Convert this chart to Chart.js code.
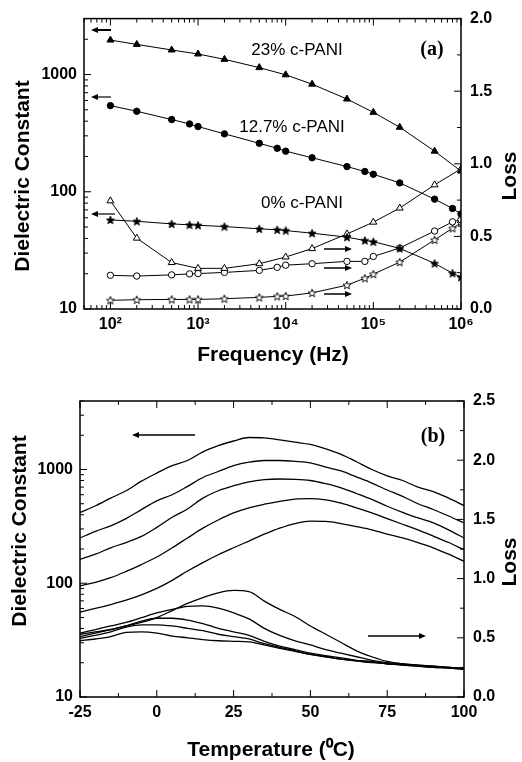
<!DOCTYPE html>
<html><head><meta charset="utf-8">
<script src="https://cdn.jsdelivr.net/npm/chart.js@4.4.0/dist/chart.umd.min.js"></script>
<style>html,body{margin:0;padding:0;background:#fff;width:522px;height:762px;overflow:hidden;}</style>
</head><body>
<canvas id="ca" width="522" height="380" style="position:absolute;left:0;top:0"></canvas>
<canvas id="cb" width="522" height="382" style="position:absolute;left:0;top:380px"></canvas>
<script>
// ---------- Panel (a) data ----------
const freqA = [100,200,500,1000,2000,5000,1e4,2e4,5e4,1e5,2e5,5e5,1e6];
const freqB = [100,200,500,800,1000,2000,5000,8000,1e4,2e4,5e4,8e4,1e5,2e5,5e5,8e5,1e6];
const eps23 = [1968,1807,1620,1497,1348,1146,994,828,618,476,355,222,150];
const loss23 = [0.745,0.488,0.320,0.280,0.280,0.312,0.358,0.416,0.517,0.598,0.695,0.855,0.965];
const eps127 = [543,486,413,379,360,312,259,235,222,195,164,149,141,119,86.5,72,64.7];
const loss127 = [0.232,0.227,0.235,0.242,0.244,0.252,0.266,0.287,0.302,0.312,0.328,0.328,0.362,0.42,0.537,0.60,0.615];
const eps0 = [57.5,56,53.2,52.2,51.8,50.5,48.3,47.4,46.7,44.3,41,38.4,37.5,32.9,24.5,20.2,18.7];
const loss0 = [0.060,0.064,0.066,0.066,0.066,0.071,0.080,0.087,0.089,0.111,0.164,0.212,0.240,0.323,0.476,0.556,0.592];
const freqTickValues = [1e2,1e3,1e4,1e5,1e6];
const freqTickLabels = ['10\u00B2','10\u00B3','10\u2074','10\u2075','10\u2076'];
const epsTickValues = [10,100,1000];
const epsTickLabels = ['10','100','1000'];

// ---------- Panel (b) data ----------
const temps = [-25,-20,-15,-10,-5,0,5,10,15,20,25,30,35,40,45,50,55,60,65,70,75,80,85,90,95,100];
const epsT1 = [418,480,560,650,790,930,1080,1200,1430,1620,1780,1910,1900,1820,1740,1660,1520,1360,1170,1000,880,800,700,640,560,482];
const epsT2 = [250,286,320,370,444,530,600,710,850,960,1080,1160,1200,1200,1180,1145,1050,970,860,760,660,580,500,445,390,339];
const epsT3 = [162,180,205,228,258,310,380,450,560,650,720,780,815,825,820,800,750,690,615,545,475,420,375,340,295,250];
const epsT4 = [95,102,112,127,146,170,205,250,305,360,415,460,495,525,550,555,540,505,460,415,370,330,295,260,228,197];
const epsT5 = [56,60,65,71,79,90,106,128,152,178,205,235,270,305,335,352,350,335,315,295,270,250,228,205,180,156];
const lossT1 = [0.53,0.55,0.57,0.60,0.63,0.67,0.73,0.79,0.84,0.88,0.90,0.89,0.81,0.74,0.68,0.60,0.53,0.46,0.39,0.34,0.30,0.28,0.27,0.26,0.25,0.24];
const lossT2 = [0.54,0.57,0.60,0.63,0.67,0.71,0.74,0.765,0.77,0.75,0.71,0.66,0.58,0.52,0.475,0.44,0.40,0.37,0.34,0.31,0.29,0.28,0.27,0.26,0.25,0.24];
const lossT3 = [0.51,0.54,0.57,0.60,0.64,0.665,0.665,0.65,0.62,0.58,0.55,0.52,0.47,0.43,0.40,0.37,0.35,0.33,0.31,0.30,0.28,0.275,0.265,0.255,0.25,0.24];
const lossT4 = [0.495,0.52,0.55,0.59,0.61,0.61,0.60,0.58,0.56,0.53,0.51,0.49,0.45,0.42,0.39,0.36,0.34,0.32,0.305,0.295,0.28,0.27,0.26,0.25,0.245,0.235];
const lossT5 = [0.475,0.49,0.51,0.545,0.55,0.54,0.515,0.50,0.485,0.475,0.47,0.465,0.44,0.41,0.385,0.36,0.34,0.32,0.305,0.29,0.28,0.27,0.26,0.25,0.245,0.235];
const tempTickValues = [-25,0,25,50,75,100];
const lossTickValuesA = [0,0.5,1,1.5,2];
const lossTickValuesB = [0,0.5,1,1.5,2,2.5];

// ---------- helpers ----------
const FAM = '"Liberation Sans", Arial, Helvetica, sans-serif';
const tickFont = {family: FAM, size: 16, weight: 'bold'};
Chart.defaults.color = '#000';

function makeStar(filled) {
  const c = document.createElement('canvas'); c.width = 10; c.height = 10;
  const g = c.getContext('2d');
  g.beginPath();
  for (let i = 0; i < 10; i++) {
    const r = i % 2 === 0 ? 4.2 : 1.8;
    const ang = -Math.PI / 2 + i * Math.PI / 5;
    g.lineTo(5 + r * Math.cos(ang), 5.4 + r * Math.sin(ang));
  }
  g.closePath();
  g.fillStyle = filled ? '#000' : '#fff'; g.fill();
  g.strokeStyle = '#000'; g.lineWidth = 0.9; g.stroke();
  return c;
}
const starFilled = makeStar(true), starOpen = makeStar(false);

function pts(xs, ys) { return xs.map((x, i) => ({x: x, y: ys[i]})); }
function markerSet(xs, ys, axis, style, filled, r) {
  return {data: pts(xs, ys), yAxisID: axis, borderColor: '#000', borderWidth: 1, tension: 0, fill: false,
    pointStyle: style, pointRadius: r, pointBackgroundColor: filled ? '#000' : '#fff',
    pointBorderColor: '#000', pointBorderWidth: 1};
}
function curveSet(xs, ys, axis) {
  return {data: pts(xs, ys), yAxisID: axis, borderColor: '#000', borderWidth: 1.3, fill: false,
    pointRadius: 0, cubicInterpolationMode: 'monotone'};
}
function logTicks(min, max) {
  const out = [];
  for (let e = Math.floor(Math.log10(min)); e <= Math.ceil(Math.log10(max)); e++) {
    for (let k = 1; k <= 9; k++) {
      const v = k * Math.pow(10, e);
      if (v >= min * 0.999 && v <= max * 1.001) out.push({v: v, major: k === 1});
    }
  }
  return out;
}
function linTicks(min, max, step, majorStep) {
  const out = [];
  for (let v = min; v <= max + 1e-9; v += step) {
    const q = (v - min) / majorStep;
    out.push({v: v, major: Math.abs(q - Math.round(q)) < 1e-6});
  }
  return out;
}
function drawFrame(ctx, a, sc, xt, yt, y1t) {
  ctx.save();
  ctx.strokeStyle = '#000'; ctx.lineWidth = 1;
  ctx.beginPath();
  xt.forEach(t => { const p = sc.x.getPixelForValue(t.v); const L = t.major ? 7 : 4;
    ctx.moveTo(p, a.bottom); ctx.lineTo(p, a.bottom - L); ctx.moveTo(p, a.top); ctx.lineTo(p, a.top + L); });
  yt.forEach(t => { const p = sc.y.getPixelForValue(t.v); const L = t.major ? 7 : 4;
    ctx.moveTo(a.left, p); ctx.lineTo(a.left + L, p); });
  y1t.forEach(t => { const p = sc.y1.getPixelForValue(t.v); const L = t.major ? 7 : 4;
    ctx.moveTo(a.right, p); ctx.lineTo(a.right - L, p); });
  ctx.stroke();
  ctx.lineWidth = 1.5;
  ctx.strokeRect(a.left, a.top, a.right - a.left, a.bottom - a.top);
  ctx.restore();
}
function txt(ctx, s, x, y, font, rot) {
  ctx.save(); ctx.translate(x, y); if (rot) ctx.rotate(rot);
  ctx.font = font; ctx.textAlign = 'center'; ctx.textBaseline = 'middle'; ctx.fillStyle = '#000';
  ctx.fillText(s, 0, 0); ctx.restore();
}
function arrow(ctx, x1, y1, x2, y2, lw) {
  ctx.save(); ctx.strokeStyle = '#000'; ctx.fillStyle = '#000'; ctx.lineWidth = lw || 1.2;
  const dir = Math.sign(x2 - x1);
  ctx.beginPath(); ctx.moveTo(x1, y1); ctx.lineTo(x2 - dir * 5, y2); ctx.stroke();
  ctx.beginPath(); ctx.moveTo(x2, y2); ctx.lineTo(x2 - dir * 7, y2 - 3); ctx.lineTo(x2 - dir * 7, y2 + 3); ctx.closePath(); ctx.fill();
  ctx.restore();
}
const titleFont = 'bold 21px ' + FAM;
const noteFont = '17px ' + FAM;
const tagFont = 'bold 20px "Liberation Serif", "Times New Roman", serif';

function axisCommon(extra) {
  return Object.assign({grid: {display: false, drawTicks: false}, border: {display: false}}, extra);
}

// ---------- Panel (a) ----------
const xtA = logTicks(50, 1e6), ytA = logTicks(10, 3000), y1tA = linTicks(0, 2, 0.25, 0.5);
new Chart(document.getElementById('ca'), {
  type: 'line',
  data: {datasets: [
    markerSet(freqA, eps23, 'y', 'triangle', true, 4),
    markerSet(freqB, eps127, 'y', 'circle', true, 3.2),
    markerSet(freqB, eps0, 'y', starFilled, true, 4),
    markerSet(freqA, loss23, 'y1', 'triangle', false, 4),
    markerSet(freqB, loss127, 'y1', 'circle', false, 3.2),
    markerSet(freqB, loss0, 'y1', starOpen, false, 4)
  ]},
  options: {
    responsive: false, animation: false, devicePixelRatio: 1,
    layout: {padding: {top: 16, left: 0, right: 0, bottom: 0}},
    plugins: {legend: {display: false}, tooltip: {enabled: false}},
    scales: {
      x: axisCommon({type: 'logarithmic', min: 50, max: 1e6, position: 'bottom',
        afterBuildTicks: s => { s.ticks = freqTickValues.map(v => ({value: v})); },
        ticks: {autoSkip: false, maxRotation: 0, padding: 6, font: tickFont, color: '#000',
          callback: v => { const i = freqTickValues.indexOf(v); return i < 0 ? '' : freqTickLabels[i]; }},
        afterFit: s => { s.height = 71; }}),
      y: axisCommon({type: 'logarithmic', min: 10, max: 3000, position: 'left',
        afterBuildTicks: s => { s.ticks = epsTickValues.map(v => ({value: v})); },
        ticks: {autoSkip: false, padding: 7, font: tickFont, color: '#000',
          callback: v => { const i = epsTickValues.indexOf(v); return i < 0 ? '' : epsTickLabels[i]; }},
        afterFit: s => { s.width = 84; }}),
      y1: axisCommon({type: 'linear', min: 0, max: 2, position: 'right',
        afterBuildTicks: s => { s.ticks = lossTickValuesA.map(v => ({value: v})); },
        ticks: {autoSkip: false, padding: 9, font: tickFont, color: '#000', callback: v => Number(v).toFixed(1)},
        afterFit: s => { s.width = 61; }})
    }
  },
  plugins: [{id: 'decorA', afterDraw(chart) {
    const ctx = chart.ctx;
    drawFrame(ctx, chart.chartArea, chart.scales, xtA, ytA, y1tA);
    txt(ctx, '23% c-PANI', 297, 50, noteFont);
    txt(ctx, '12.7% c-PANI', 292, 127, noteFont);
    txt(ctx, '0% c-PANI', 302, 203, noteFont);
    txt(ctx, '(a)', 432, 50, tagFont);
    arrow(ctx, 111, 30, 91, 30, 2);
    arrow(ctx, 111, 97, 91, 97, 1.2);
    arrow(ctx, 115, 214, 91, 214, 1.2);
    arrow(ctx, 324, 249, 352, 249, 1.5);
    arrow(ctx, 324, 268, 352, 268, 1.5);
    arrow(ctx, 324, 294, 352, 294, 1.5);
    txt(ctx, 'Dielectric Constant', 23, 176, titleFont, -Math.PI / 2);
    txt(ctx, 'Loss', 510, 176, titleFont, -Math.PI / 2);
    txt(ctx, 'Frequency (Hz)', 273, 355, titleFont);
  }}]
});

// ---------- Panel (b) ----------
const xtB = linTicks(-25, 100, 12.5, 25), ytB = logTicks(10, 4000), y1tB = linTicks(0, 2.5, 0.25, 0.5);
new Chart(document.getElementById('cb'), {
  type: 'line',
  data: {datasets: [
    curveSet(temps, epsT1, 'y'), curveSet(temps, epsT2, 'y'), curveSet(temps, epsT3, 'y'),
    curveSet(temps, epsT4, 'y'), curveSet(temps, epsT5, 'y'),
    curveSet(temps, lossT1, 'y1'), curveSet(temps, lossT2, 'y1'), curveSet(temps, lossT3, 'y1'),
    curveSet(temps, lossT4, 'y1'), curveSet(temps, lossT5, 'y1')
  ]},
  options: {
    responsive: false, animation: false, devicePixelRatio: 1,
    layout: {padding: {top: 21, left: 0, right: 0, bottom: 0}},
    plugins: {legend: {display: false}, tooltip: {enabled: false}},
    scales: {
      x: axisCommon({type: 'linear', min: -25, max: 100, position: 'bottom',
        afterBuildTicks: s => { s.ticks = tempTickValues.map(v => ({value: v})); },
        ticks: {autoSkip: false, maxRotation: 0, padding: 6, font: tickFont, color: '#000', callback: v => String(v)},
        afterFit: s => { s.height = 65; }}),
      y: axisCommon({type: 'logarithmic', min: 10, max: 4000, position: 'left',
        afterBuildTicks: s => { s.ticks = epsTickValues.map(v => ({value: v})); },
        ticks: {autoSkip: false, padding: 7, font: tickFont, color: '#000',
          callback: v => { const i = epsTickValues.indexOf(v); return i < 0 ? '' : epsTickLabels[i]; }},
        afterFit: s => { s.width = 80; }}),
      y1: axisCommon({type: 'linear', min: 0, max: 2.5, position: 'right',
        afterBuildTicks: s => { s.ticks = lossTickValuesB.map(v => ({value: v})); },
        ticks: {autoSkip: false, padding: 9, font: tickFont, color: '#000', callback: v => Number(v).toFixed(1)},
        afterFit: s => { s.width = 58; }})
    }
  },
  plugins: [{id: 'decorB', afterDraw(chart) {
    const ctx = chart.ctx;
    drawFrame(ctx, chart.chartArea, chart.scales, xtB, ytB, y1tB);
    txt(ctx, '(b)', 433, 57, tagFont);
    arrow(ctx, 195, 55, 132, 55, 1.3);
    arrow(ctx, 368, 256, 426, 256, 1.3);
    txt(ctx, 'Dielectric Constant', 20, 151, titleFont, -Math.PI / 2);
    txt(ctx, 'Loss', 510, 182, titleFont, -Math.PI / 2);
    txt(ctx, 'Temperature (\u2070C)', 271, 370, titleFont);
  }}]
});
</script>
</body></html>
